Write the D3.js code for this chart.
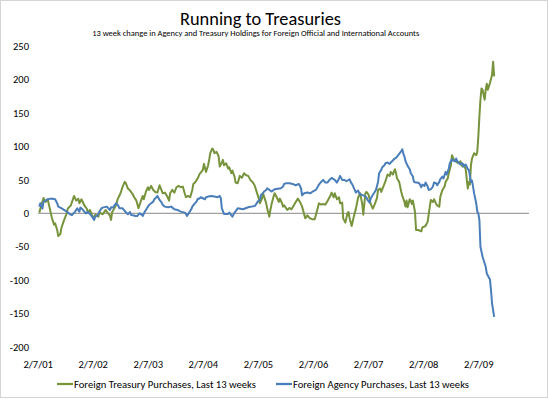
<!DOCTYPE html>
<html>
<head>
<meta charset="utf-8">
<script src="https://cdn.jsdelivr.net/npm/d3@7"></script>
<style>
  body { margin: 0; background: #fff; }
  svg { display: block; font-family: Carlito, Calibri, Lato, sans-serif; }
</style>
</head>
<body>
<div id="chart"></div>
<script>
// weekly data, weeks counted from 2/7/01
const startDate = new Date(2001, 1, 7);
const yearTicks = ["2/7/01", "2/7/02", "2/7/03", "2/7/04", "2/7/05", "2/7/06", "2/7/07", "2/7/08", "2/7/09"];
const yTicks = [250, 200, 150, 100, 50, 0, -50, -100, -150, -200];

const treasuryWeeks = [1,5,7,9,11,13,15,16,18,19,21,22,24,27,28,31,34,36,38,39,41,44,46,47,49,51,53,54,57,58,61,64,65,68,69,70,72,74,75,78,80,82,83,85,87,89,91,93,95,97,99,100,102,104,105,107,109,111,113,115,117,118,120,122,124,125,127,129,131,133,135,137,139,140,142,144,146,147,149,151,153,154,156,157,159,161,162,163,165,166,167,169,171,172,174,175,176,178,180,181,183,184,186,187,189,191,193,195,197,199,201,203,205,207,209,210,212,213,214,216,217,219,220,221,223,224,226,228,229,231,232,233,236,238,240,244,246,248,250,253,255,257,260,262,264,266,268,270,272,274,277,278,280,281,283,285,286,288,289,291,293,294,295,297,299,301,303,305,306,307,308,310,311,313,315,317,319,321,322,324,325,327,329,331,333,334,336,338,339,340,342,344,345,347,348,349,350,352,353,354,355,357,358,360,363,364,367,369,371,372,374,375,377,378,380,381,383,385,386,388,389,391,392,394,396,398,400,402,403,405,407,408,409,410,411,413,415,416,417,418,419,420,421,423,424,425,426,427,428,430,431,432];
const treasuryValues = [1,23,17,21,7,-7,-17,-15,-25,-34,-31,-22,-12.5,0,7,12,26,19,22,15,21,11,7,1.5,5,-2.5,-8,-2,-5,1.5,-1.5,5,2.5,-3.5,-10,1.5,7,13,20,30,40,47,45,37,34,30,24,19,7.5,17,26,21,32,39,35,41,35,32,31,42,34,30,31,26,19,30,35,31,39,41,39,40,29,24,26,24,35,44,47,52,59,61,65,74,62,72,80,90,97,95,90,92,85,70,76,80,72,75,67,69,60,64,55,46,45,56,53,60,57,56,50,47,42,32,22,15,22,30,25,15,7,-5,5,13,25,30,24,17,22,15,10,12,5,8,6,17,22,17,10,-7.5,-3,-7,-9,-9,3,15,13,14,13,18,27,31,24,30,21,24,15,16,-8,-14,0,2,-7,-19,-5,7,23,30,22,14,-2,30,32,28,14,7,14,23,35,37,32,40,48,58,56,62,58,66,60,52,47,32,26,17,10,19,9,21,19,14,19,2,-25,-25,-27,-21,-19,-12.5,10,20,17,21,14,12,10,25,35,40,47,52,60,72,87,80,77,75,78,70,73,66,37,47,43,72,82,90,87,92,115,145,170,187,185,170,185,194,185,190,195,207,227,205];

const agencyWeeks = [1,2,4,5,8,9,12,16,18,19,21,23,26,28,30,32,35,37,39,40,42,45,47,49,51,53,54,56,58,60,61,65,68,69,71,72,74,76,77,80,82,83,85,87,88,90,92,94,96,98,99,101,102,104,105,107,109,110,112,113,115,117,118,120,123,126,129,132,135,139,140,141,143,145,146,148,150,151,153,154,158,159,161,164,167,170,172,173,174,176,178,180,181,184,186,188,189,194,199,202,205,206,208,210,211,213,214,216,217,221,224,230,232,233,235,238,241,244,247,249,250,252,255,258,260,263,265,266,268,270,272,274,276,278,281,283,285,286,288,290,292,295,296,298,299,301,303,305,306,309,311,312,314,315,317,318,320,322,323,325,326,328,329,331,333,334,336,337,339,340,342,344,345,346,347,348,350,352,353,355,356,358,359,361,363,364,366,367,369,370,372,374,375,377,378,380,381,383,384,386,387,389,390,392,393,395,396,397,399,400,402,403,405,407,408,410,411,412,413,415,416,417,418,419,421,422,424,425,428,429,430,432];
const agencyValues = [10,15,7,17,20,21,22,21,15,10,8.5,6.5,3.5,1.5,-1.5,-2.5,2.5,7.5,2.5,8.5,6,0,2,-1,-5,-10,-5,-3.5,2.5,7.5,8.5,10,5,9,8.5,11.5,15,11,7.5,7.5,3.5,1.5,-1.5,2,-2.5,-3,-4,-4,0,-2,-4,2.5,5,10,12.5,15,17.5,21,24,26,20,16,12.5,10,9,10,6,5,2.5,1,-1,-4,1,6,10,14,17.5,21,22.5,24,21,24,25,26,25,24,26,22.5,7.5,-1,-1,-1,1,-5,1,5,7.5,6,9,10,11,12.5,17.5,20,27.5,30,32.5,35,37.5,32.5,36,37.5,40,44,45,45,44,42,44,37.5,27,30,31,30,32.5,35,40,43,47,50,46,46,50,53,50,46,52,56,50,50,48,51,47,42,38,31,34,28,28,26,24,20,16,22,27.5,30,35,47,60,65,69,72,75,76,74,76,79,81,83,85,89,93,96,89,85,78,71,66,60,55,47,46,46,45,39,43,41,46,40,35,36,40,46,45,42,47,51,55,52,62,58,67,75,81,79,78,82,78,75,73,75,70,73,66,65,47,49,40,30,15,2.5,0,-10,-50,-65,-70,-80,-90,-99,-115,-135,-155];

const width = 548, height = 399;

const svg = d3.select("#chart")
  .append("svg")
  .attr("width", width)
  .attr("height", height);

// outer frame
svg.append("rect")
  .attr("x", 0.5).attr("y", 0.5)
  .attr("width", width - 1).attr("height", height - 2)
  .attr("fill", "#fff")
  .attr("stroke", "#d4d4d4");

const weekDate = (w) => d3.timeDay.offset(startDate, w * 7);
const parseTick = d3.timeParse("%m/%d/%y");

const x = d3.scaleTime()
  .domain([startDate, new Date(2010, 0, 6)])
  .range([38.2, 529]);

const y = d3.scaleLinear()
  .domain([-200, 250])
  .range([346.9, 46.3]);

// title + subtitle
svg.append("text")
  .attr("x", 260.5).attr("y", 25)
  .attr("text-anchor", "middle")
  .attr("font-size", 18.5)
  .attr("textLength", 161).attr("lengthAdjust", "spacingAndGlyphs")
  .text("Running to Treasuries");

svg.append("text")
  .attr("x", 255.7).attr("y", 36)
  .attr("text-anchor", "middle")
  .attr("font-size", 8.5)
  .attr("textLength", 327).attr("lengthAdjust", "spacingAndGlyphs")
  .text("13 week change in Agency and Treasury Holdings for Foreign Official and International Accounts");

// y tick labels (no axis line in the original)
svg.append("g")
  .selectAll("text")
  .data(yTicks)
  .enter()
  .append("text")
    .attr("x", 29)
    .attr("y", (d) => y(d))
    .attr("dy", "0.35em")
    .attr("text-anchor", "end")
    .attr("font-size", 10.5)
    .text((d) => d);

// x tick labels
svg.append("g")
  .selectAll("text")
  .data(yearTicks)
  .enter()
  .append("text")
    .attr("x", (d) => x(parseTick(d)))
    .attr("y", 368)
    .attr("text-anchor", "middle")
    .attr("font-size", 10.5)
    .text((d) => d);

// zero line
svg.append("line")
  .attr("x1", x.range()[0]).attr("x2", x.range()[1])
  .attr("y1", y(0)).attr("y2", y(0))
  .attr("stroke", "#898989")
  .attr("stroke-width", 1);

const line = d3.line()
  .x((d) => x(weekDate(d[0])))
  .y((d) => y(d[1]));

const series = [
  { name: "Foreign Treasury Purchases, Last 13 weeks", color: "#77933C",
    pts: d3.zip(treasuryWeeks, treasuryValues), lx: 57, tw: 182 },
  { name: "Foreign Agency Purchases, Last 13 weeks", color: "#4A7EBB",
    pts: d3.zip(agencyWeeks, agencyValues), lx: 276, tw: 176 }
];

// treasury first, agency on top (series order)
svg.selectAll("path.series")
  .data(series)
  .enter()
  .append("path")
    .attr("class", "series")
    .attr("d", (d) => line(d.pts))
    .attr("fill", "none")
    .attr("stroke", (d) => d.color)
    .attr("stroke-width", 2)
    .attr("stroke-linejoin", "round");

// legend
const legend = svg.selectAll("g.legend")
  .data(series)
  .enter()
  .append("g")
    .attr("class", "legend");

legend.append("line")
  .attr("x1", (d) => d.lx).attr("x2", (d) => d.lx + 16)
  .attr("y1", 384).attr("y2", 384)
  .attr("stroke", (d) => d.color)
  .attr("stroke-width", 2.25);

legend.append("text")
  .attr("x", (d) => d.lx + 17)
  .attr("y", 384)
  .attr("dy", "0.35em")
  .attr("font-size", 10.5)
  .attr("textLength", (d) => d.tw).attr("lengthAdjust", "spacingAndGlyphs")
  .text((d) => d.name);
</script>
</body>
</html>
